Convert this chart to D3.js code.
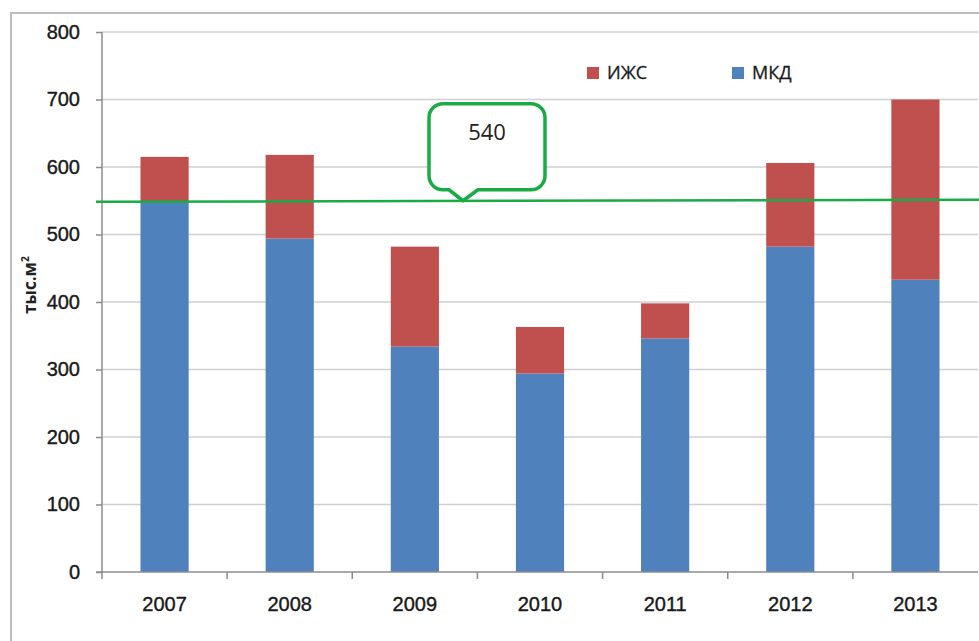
<!DOCTYPE html>
<html>
<head>
<meta charset="utf-8">
<script src="https://cdn.jsdelivr.net/npm/d3@7"></script>
<style>
  body { margin: 0; background: #fff; }
  svg { display: block; font-family: "Open Sans", "Noto Sans", sans-serif; }
</style>
</head>
<body>
<div id="chart"></div>
<script>
const years = ['2007', '2008', '2009', '2010', '2011', '2012', '2013'];
const mkd = [548, 494, 334, 294, 346, 482, 433];
const izhs = [67, 124, 148, 69, 52, 124, 267];
const yTicks = [0, 100, 200, 300, 400, 500, 600, 700, 800];
const lineValue = 550;
const lineLabel = '540';
const seriesNames = ['МКД', 'ИЖС'];
const colors = { 'МКД': '#4f81bd', 'ИЖС': '#c0504d' };

const width = 979, height = 641;
const margin = { top: 32, right: 1, bottom: 69, left: 102 };
const innerW = width - margin.left - margin.right;
const innerH = height - margin.top - margin.bottom;

const svg = d3.select('#chart').append('svg')
  .attr('width', width).attr('height', height);

// outer frame
svg.append('path')
  .attr('d', `M11,${height} V13 H${width}`)
  .attr('fill', 'none').attr('stroke', '#bdbdbd').attr('stroke-width', 2);

const g = svg.append('g').attr('transform', `translate(${margin.left},${margin.top})`);

const x = d3.scaleBand().domain(years).range([0, innerW])
  .paddingInner(0.615).paddingOuter(0.3075);
const y = d3.scaleLinear().domain([0, 800]).range([innerH, 0]);

// gridlines
g.append('g')
  .selectAll('line')
  .data(yTicks.filter(d => d > 0))
  .join('line')
  .attr('x1', 0).attr('x2', innerW)
  .attr('y1', d => y(d)).attr('y2', d => y(d))
  .attr('stroke', '#d0d0d0').attr('stroke-width', 1.5);

// stacked bars
const rows = years.map((yr, i) => ({ year: yr, 'МКД': mkd[i], 'ИЖС': izhs[i] }));
const stacked = d3.stack().keys(seriesNames)(rows);

g.append('g').selectAll('g')
  .data(stacked)
  .join('g')
  .attr('fill', d => colors[d.key])
  .selectAll('rect')
  .data(d => d)
  .join('rect')
  .attr('x', d => x(d.data.year))
  .attr('y', d => y(d[1]))
  .attr('width', x.bandwidth())
  .attr('height', d => y(d[0]) - y(d[1]));

// y axis
const yAxis = g.append('g')
  .call(d3.axisLeft(y).tickValues(yTicks).tickSize(6).tickPadding(16));
yAxis.select('.domain').attr('stroke', '#8c8c8c').attr('stroke-width', 1.5).attr('d', `M0,${innerH}V0`);
yAxis.selectAll('.tick line').attr('stroke', '#8c8c8c').attr('stroke-width', 1.5);
yAxis.selectAll('.tick text').attr('font-size', 20).attr('fill', '#1a1a1a')
  .attr('stroke', '#1a1a1a').attr('stroke-width', 0.4);

// x axis
const xAxis = g.append('g').attr('transform', `translate(0,${innerH})`)
  .call(d3.axisBottom(x).tickSize(0).tickPadding(25));
xAxis.select('.domain').attr('stroke', '#8c8c8c').attr('stroke-width', 1.5).attr('d', `M-6,0H${innerW}`);
xAxis.selectAll('.tick text').attr('font-size', 20).attr('fill', '#1a1a1a')
  .attr('stroke', '#1a1a1a').attr('stroke-width', 0.4);
g.append('g').attr('transform', `translate(0,${innerH})`)
  .selectAll('line')
  .data(years)
  .join('line')
  .attr('x1', d => x(d) - x.step() * x.paddingInner() / 2)
  .attr('x2', d => x(d) - x.step() * x.paddingInner() / 2)
  .attr('y1', 0).attr('y2', 7)
  .attr('stroke', '#8c8c8c').attr('stroke-width', 1.5);

// y label
g.append('text')
  .attr('transform', `translate(-66,${y(425)}) rotate(-90)`)
  .attr('text-anchor', 'middle')
  .attr('font-size', 17).attr('font-weight', 700).attr('fill', '#222')
  .html('тыс.м<tspan dy="-7" font-size="10">2</tspan>');

// legend
const legendItems = [{ key: 'ИЖС', x: 485 }, { key: 'МКД', x: 630 }];
const legend = g.append('g').attr('transform', 'translate(0,41)')
  .selectAll('g').data(legendItems).join('g')
  .attr('transform', d => `translate(${d.x},0)`);
legend.append('rect').attr('x', 0).attr('y', -6).attr('width', 12).attr('height', 12)
  .attr('fill', d => colors[d.key]);
legend.append('text').attr('x', 20).attr('y', 0).attr('dy', '0.35em')
  .attr('font-size', 18).attr('fill', '#1a1a1a')
  .attr('stroke', '#1a1a1a').attr('stroke-width', 0.3)
  .text(d => d.key);

// green reference line
const ly = y(lineValue);
g.append('line')
  .attr('x1', -6).attr('x2', innerW + 1)
  .attr('y1', ly + 1).attr('y2', ly - 1)
  .attr('stroke', '#1aaa46').attr('stroke-width', 2.5);

// callout
const cx0 = 327, cx1 = 443, cy0 = y(lineValue) - 97, cy1 = y(lineValue) - 11, r = 14;
const tipX = 361, tipY = ly;
const path = d3.path();
path.moveTo(cx0 + r, cy0);
path.lineTo(cx1 - r, cy0);
path.arcTo(cx1, cy0, cx1, cy0 + r, r);
path.lineTo(cx1, cy1 - r);
path.arcTo(cx1, cy1, cx1 - r, cy1, r);
path.lineTo(tipX + 15, cy1);
path.lineTo(tipX, tipY);
path.lineTo(tipX - 14, cy1);
path.lineTo(cx0 + r, cy1);
path.arcTo(cx0, cy1, cx0, cy1 - r, r);
path.lineTo(cx0, cy0 + r);
path.arcTo(cx0, cy0, cx0 + r, cy0, r);
path.closePath();
g.append('path').attr('d', path.toString())
  .attr('fill', '#fff').attr('stroke', '#1aaa46').attr('stroke-width', 3.5)
  .attr('stroke-linejoin', 'round');
g.append('text')
  .attr('x', 385).attr('y', cy0 + 36)
  .attr('text-anchor', 'middle')
  .attr('font-size', 22).attr('fill', '#222')
  .text(lineLabel);
</script>
</body>
</html>
